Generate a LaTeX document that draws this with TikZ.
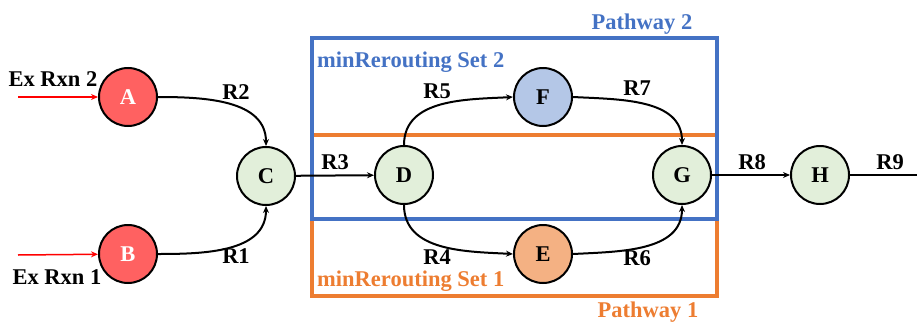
\documentclass[tikz,border=0pt]{standalone}
\usepackage{fontspec}
\setmainfont{Liberation Serif}
\usetikzlibrary{arrows.meta}
\definecolor{nred}{HTML}{FF6161}
\definecolor{ngreen}{HTML}{E2EFDA}
\definecolor{nblue}{HTML}{B4C7E7}
\definecolor{norange}{HTML}{F4B183}
\definecolor{bblue}{HTML}{4472C4}
\definecolor{borange}{HTML}{ED7D31}
\begin{document}
\begin{tikzpicture}[x=1pt,y=-1pt,
  met/.style={circle,draw=black,line width=2pt,minimum size=58pt,inner sep=0pt,font=\fontsize{22.5}{24}\selectfont\bfseries},
  lbl/.style={font=\fontsize{22.5}{24}\selectfont\bfseries,inner sep=0pt},
  edge/.style={line width=2pt,-{Stealth[length=7pt,width=6pt]}},
  exedge/.style={line width=1.5pt,red,-{Stealth[length=7pt,width=6pt]}}]
\useasboundingbox (0,0) rectangle (917,324);
% boxes
\draw[borange,line width=4.5pt] (312,135) rectangle (717,296);
\draw[bblue,line width=4.5pt] (312,38) rectangle (717,219);
% nodes
\node[met,fill=nred,text=white] (A) at (128,97) {A};
\node[met,fill=nred,text=white] (B) at (128,254) {B};
\node[met,fill=ngreen] (C) at (266,176) {C};
\node[met,fill=ngreen] (D) at (404,175) {D};
\node[met,fill=nblue] (F) at (543,97) {F};
\node[met,fill=norange] (E) at (543,254) {E};
\node[met,fill=ngreen] (G) at (682,175) {G};
\node[met,fill=ngreen] (H) at (820,175) {H};
\coordinate (exA) at (18,97);
\coordinate (exB) at (18,255);
\coordinate (out) at (917,175);
% edges
\draw[exedge] (exA) -- (A);
\draw[exedge] (exB) -- (B);
\draw[edge] (A.east) to[out=0,in=90] (C.north);
\draw[edge] (B.east) to[out=0,in=-90] (C.south);
\draw[edge] (C) -- (D);
\draw[edge] (D.north) to[out=90,in=183] (F.west);
\draw[edge] (F.east) to[out=-3,in=90] (G.north);
\draw[edge] (D.south) to[out=-90,in=177] (E.west);
\draw[edge] (E.east) to[out=3,in=-90] (G.south);
\draw[edge] (G) -- (H);
\draw[line width=2pt] (H) -- (out);
% labels
\node[lbl] (l1) at (53,79) {Ex Rxn 2};
\node[lbl] (l2) at (57,277) {Ex Rxn 1};
\node[lbl] (r2) at (236,92) {R2};
\node[lbl] (r1) at (236,256) {R1};
\node[lbl] (r3) at (335,162) {R3};
\node[lbl] (r5) at (437,91) {R5};
\node[lbl] (r7) at (637,88) {R7};
\node[lbl] (r4) at (437,257) {R4};
\node[lbl] (r6) at (637,258) {R6};
\node[lbl] (r8) at (752,162) {R8};
\node[lbl] (r9) at (890,162) {R9};
\node[lbl,text=bblue] (p2) at (642,24) {Pathway 2};
\node[lbl,text=borange] (p1) at (648,312.5) {Pathway 1};
\node[lbl,text=bblue,anchor=west] (s2) at (317,62) {minRerouting Set 2};
\node[lbl,text=borange,anchor=west] (s1) at (317,281.5) {minRerouting Set 1};
\end{tikzpicture}
\end{document}
